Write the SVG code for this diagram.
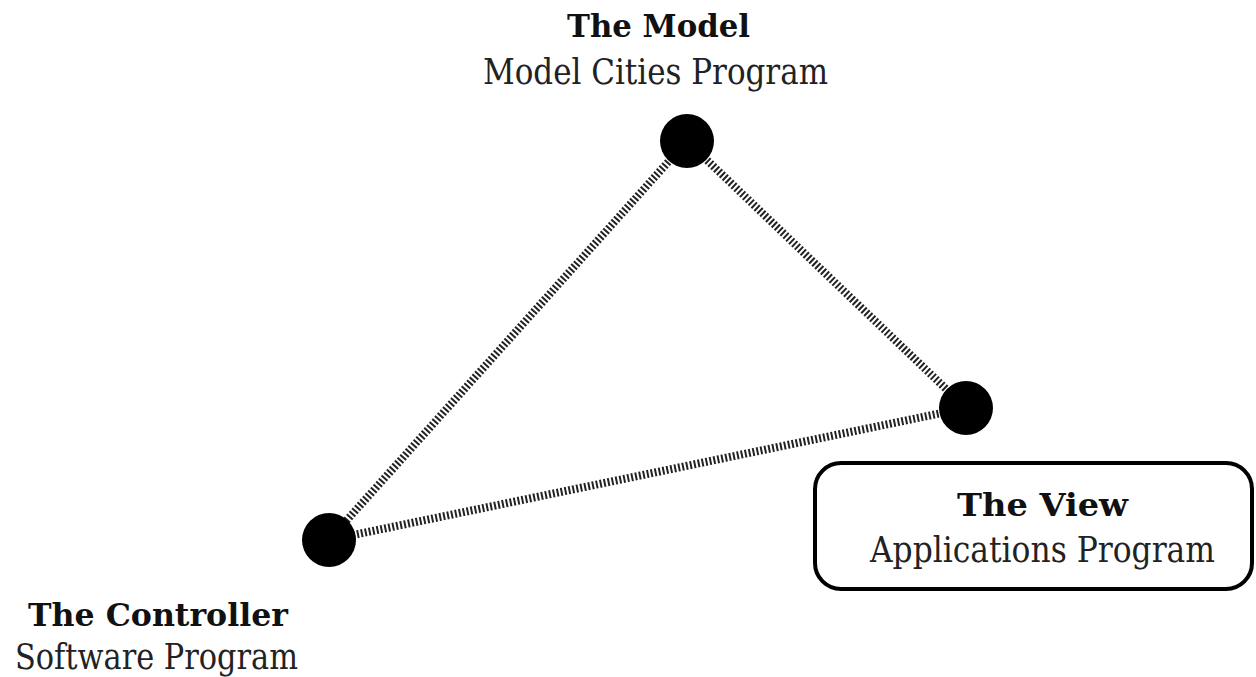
<svg xmlns="http://www.w3.org/2000/svg" width="1256" height="677" viewBox="0 0 1256 677">
<style>
.b{font-family:"DejaVu Serif","Liberation Serif",serif;font-weight:bold;font-size:32px;fill:#111}
.r{font-family:"DejaVu Serif","Liberation Serif",serif;font-size:35px;fill:#222}
.dot{fill:#000}
.edge{stroke:#222;stroke-width:8;stroke-dasharray:2 2;fill:none}
</style>
<rect width="1256" height="677" fill="#fff"/>
<g id="connectors">
<line class="edge" x1="687" y1="141" x2="329" y2="540"/>
<line class="edge" x1="687" y1="141" x2="966" y2="408"/>
<line class="edge" x1="966" y1="408" x2="329" y2="540"/>
</g>
<g id="model">
<circle class="dot" cx="687" cy="141" r="27"/>
<text class="b" x="567" y="37" textLength="183" lengthAdjust="spacingAndGlyphs">The Model</text>
<text class="r" x="483" y="84" textLength="345" lengthAdjust="spacingAndGlyphs">Model Cities Program</text>
</g>
<g id="view">
<circle class="dot" cx="966" cy="408" r="27"/>
<rect x="815" y="463" width="437" height="126" rx="26" fill="#fff" stroke="#000" stroke-width="4"/>
<text class="b" x="957" y="516" textLength="171" lengthAdjust="spacingAndGlyphs">The View</text>
<text class="r" x="870" y="562" textLength="345" lengthAdjust="spacingAndGlyphs">Applications Program</text>
</g>
<g id="controller">
<circle class="dot" cx="329" cy="540" r="27"/>
<text class="b" x="28" y="626" textLength="260" lengthAdjust="spacingAndGlyphs">The Controller</text>
<text class="r" x="15" y="669" textLength="283" lengthAdjust="spacingAndGlyphs">Software Program</text>
</g>
</svg>
